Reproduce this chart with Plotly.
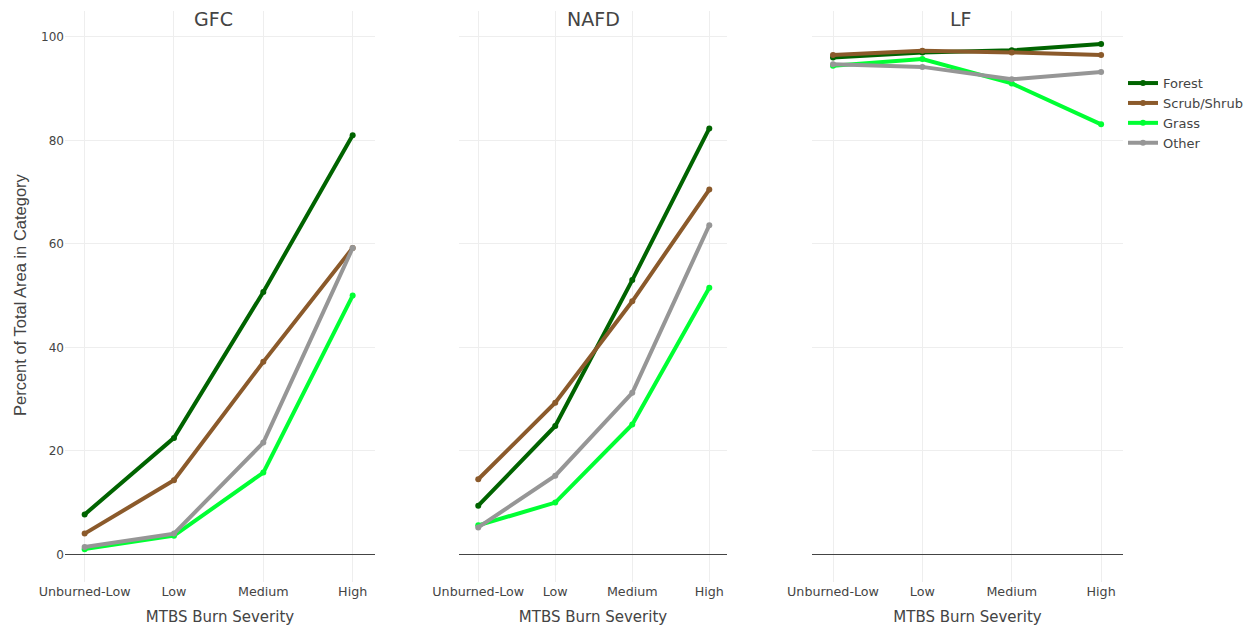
import plotly.graph_objects as go

categories = ["Unburned-Low", "Low", "Medium", "High"]
panels = ["GFC", "NAFD", "LF"]
series_names = ["Forest", "Scrub/Shrub", "Grass", "Other"]
series_colors = ["#006400", "#8B5A2B", "#00FF33", "#969696"]

gfc_forest = [7.7, 22.5, 50.7, 81.0]
gfc_scrub = [4.0, 14.3, 37.2, 59.2]
gfc_grass = [1.0, 3.6, 15.8, 50.0]
gfc_other = [1.4, 4.0, 21.6, 59.2]

nafd_forest = [9.4, 24.8, 53.0, 82.3]
nafd_scrub = [14.5, 29.3, 48.9, 70.5]
nafd_grass = [5.6, 10.0, 25.1, 51.5]
nafd_other = [5.2, 15.2, 31.2, 63.6]

lf_forest = [96.0, 97.0, 97.4, 98.6]
lf_scrub = [96.5, 97.3, 97.0, 96.5]
lf_grass = [94.4, 95.7, 91.0, 83.1]
lf_other = [94.7, 94.2, 91.8, 93.2]

panel_data = [
    [gfc_forest, gfc_scrub, gfc_grass, gfc_other],
    [nafd_forest, nafd_scrub, nafd_grass, nafd_other],
    [lf_forest, lf_scrub, lf_grass, lf_other],
]

W, H = 1255, 626
ml, mr, mt, mb = 65, 132, 11, 44
pw = W - ml - mr
ph = H - mt - mb

def dom(a, b):
    return [(a - ml) / pw, (b - ml) / pw]

domains = [dom(65, 375), dom(459, 727), dom(812, 1123)]
xranges = [[-0.22, 3.25], [-0.25, 3.23], [-0.235, 3.245]]
title_shift = [-7, 0, -7]

FONT = "DejaVu Sans, Verdana, sans-serif"
YFONT = "Liberation Sans, Arial, sans-serif"

fig = go.Figure()
for p, pdata in enumerate(panel_data):
    xa = "x" if p == 0 else f"x{p+1}"
    ya = "y" if p == 0 else f"y{p+1}"
    for s, vals in enumerate(pdata):
        fig.add_trace(go.Scatter(
            x=categories, y=vals, mode="lines+markers",
            name=series_names[s], legendgroup=series_names[s],
            showlegend=(p == 0),
            line=dict(color=series_colors[s], width=4),
            marker=dict(color=series_colors[s], size=6),
            xaxis=xa, yaxis=ya,
        ))

axis_font = dict(family=FONT, size=12.7, color="#444")
layout = dict(
    width=W, height=H,
    margin=dict(l=ml, r=mr, t=mt, b=mb, autoexpand=False),
    paper_bgcolor="white", plot_bgcolor="white",
    font=dict(family=FONT, color="#444", size=12),
    legend=dict(x=1.0, y=0.9, xanchor="left", yanchor="top",
                font=dict(family=FONT, size=13, color="#444"), tracegroupgap=0),
    annotations=[],
)
for p in range(3):
    sx = "" if p == 0 else str(p + 1)
    layout[f"xaxis{sx}"] = dict(
        domain=domains[p], anchor=f"y{sx}", type="category",
        categoryorder="array", categoryarray=categories,
        range=xranges[p], showgrid=True, gridcolor="#eeeeee",
        zeroline=False, showline=False, tickfont=axis_font, automargin=False,
        title=dict(text="MTBS Burn Severity", font=dict(family=FONT, size=15, color="#444")),
    )
    layout[f"yaxis{sx}"] = dict(
        domain=[0, 1], anchor=f"x{sx}", range=[-5.35, 105],
        showgrid=True, gridcolor="#eeeeee", zeroline=True,
        zerolinecolor="#444", zerolinewidth=1, automargin=False,
        tickvals=[0, 20, 40, 60, 80, 100], showticklabels=(p == 0),
        tickfont=dict(family=FONT, size=12, color="#444"),
    )
    layout["annotations"].append(dict(
        text=panels[p], x=sum(domains[p]) / 2, y=1.0, xref="paper", yref="paper",
        xanchor="center", yanchor="top", showarrow=False, xshift=title_shift[p], yshift=5,
        font=dict(family=FONT, size=19, color="#444"),
    ))

layout["annotations"].append(dict(
    text="Percent of Total Area in Category", textangle=-90,
    x=(20 - ml) / pw, y=1 - (295 - mt) / ph, xref="paper", yref="paper",
    xanchor="center", yanchor="middle", showarrow=False,
    font=dict(family=YFONT, size=16.5, color="#444"),
))

fig.update_layout(**layout)
fig.write_html("out.html")
